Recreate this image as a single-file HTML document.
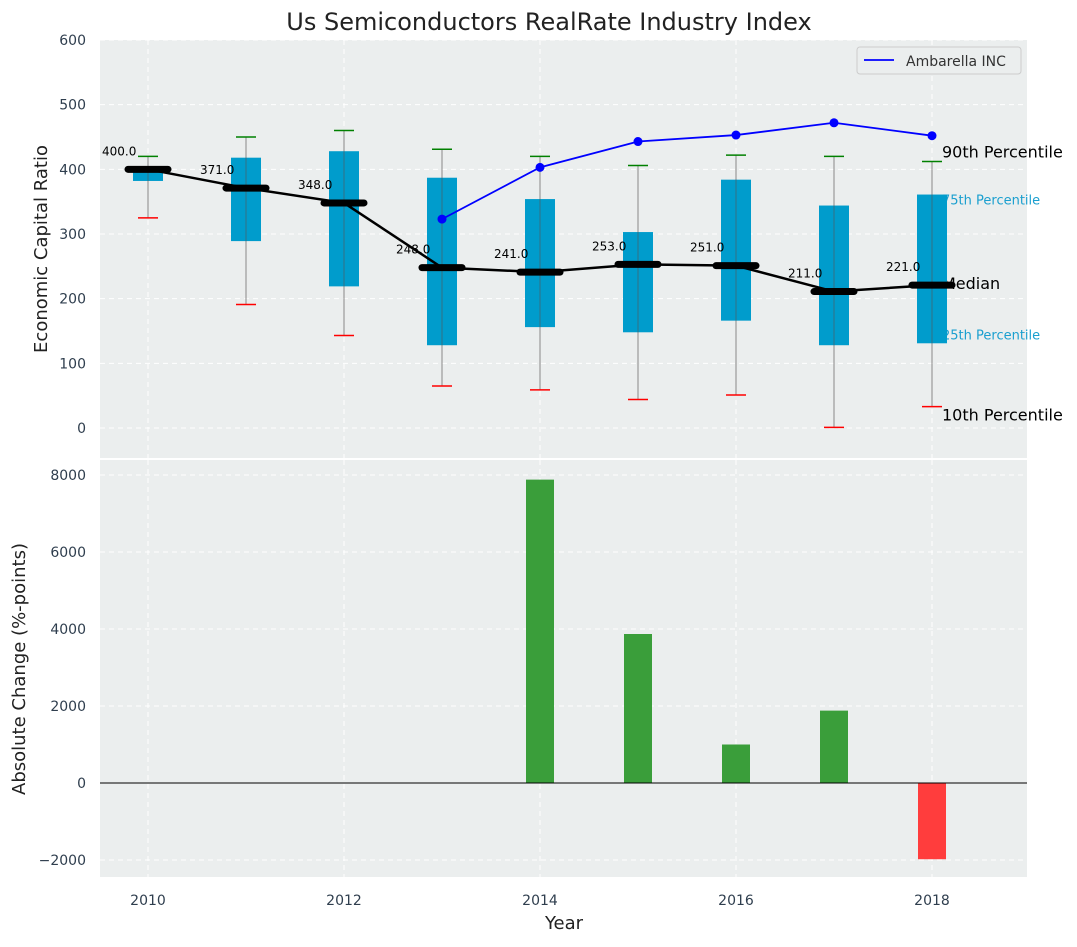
<!DOCTYPE html>
<html><head><meta charset="utf-8"><style>
body{margin:0;background:#fff;font-family:"Liberation Sans","DejaVu Sans",sans-serif}
svg text{font-family:"DejaVu Sans","Liberation Sans",sans-serif}
</style></head><body>
<svg id="c" width="1077" height="942" xmlns="http://www.w3.org/2000/svg"></svg>
<script>
const years=[2010,2011,2012,2013,2014,2015,2016,2017,2018];
const p10=[325,191,143,65,59,44,51,1,33];
const p25=[382,289,219,128,156,148,166,128,131];
const median=[400,371,348,248,241,253,251,211,221];
const p75=[404,418,428,387,354,303,384,344,361];
const p90=[420,450,460,431,420,406,422,420,412];
const ambYears=[2013,2014,2015,2016,2017,2018];
const ambVals=[323,403,443,453,472,452];
const barYears=[2014,2015,2016,2017,2018];
const barVals=[7880,3870,1000,1880,-1980];
const topTicks=[0,100,200,300,400,500,600];
const botTicks=[-2000,0,2000,4000,6000,8000];
const xTicks=[2010,2012,2014,2016,2018];

const svg=document.getElementById('c');
const NS='http://www.w3.org/2000/svg';
function el(t,a,p){const e=document.createElementNS(NS,t);for(const k in a)e.setAttribute(k,a[k]);(p||svg).appendChild(e);return e;}
const X=y=>148+(y-2010)*98;
const YT=v=>428-v*0.6467;
const YB=v=>783-v*0.0385;

let e;
e=el('text',{x:549,y:30,'font-size':24,'text-anchor':'middle',fill:'#222'});e.textContent='Us Semiconductors RealRate Industry Index';



e=el('rect',{x:100,y:40,width:927,height:418,fill:'#ebeeee'});


e=el('rect',{x:100,y:460,width:927,height:417,fill:'#ebeeee'});



topTicks.forEach(t=>{
 el('line',{x1:100,x2:1027,y1:YT(t),y2:YT(t),stroke:'#fff','stroke-dasharray':'5,4'});
 e=el('text',{x:86,y:YT(t)+5,'font-size':14,'text-anchor':'end',fill:'#2f3e4e'});e.textContent=t;
 
 
});
botTicks.forEach(t=>{
 el('line',{x1:100,x2:1027,y1:YB(t),y2:YB(t),stroke:'#fff','stroke-dasharray':'5,4'});
 e=el('text',{x:86,y:YB(t)+5,'font-size':14,'text-anchor':'end',fill:'#2f3e4e'});e.textContent=(t<0?'\u2212'+(-t):t);
 
 
});
xTicks.forEach(t=>{
 el('line',{x1:X(t),x2:X(t),y1:40,y2:458,stroke:'#fff','stroke-dasharray':'5,4'});
 el('line',{x1:X(t),x2:X(t),y1:460,y2:877,stroke:'#fff','stroke-dasharray':'5,4'});
 e=el('text',{x:X(t),y:905,'font-size':14,'text-anchor':'middle',fill:'#2f3e4e'});e.textContent=t;
 
 
});

const L=years.length-1, lx=X(years[L])+10;
[['90th Percentile',p90[L],'#000',16,-10],['75th Percentile',p75[L],'#1a9fcf',13,4],['Median',median[L],'#000',16,-2],['25th Percentile',p25[L],'#1a9fcf',13,-10],['10th Percentile',p10[L],'#000',16,8]].forEach(a=>{
 e=el('text',{x:lx,y:YT(a[1])+a[4]+6,'font-size':a[3],fill:a[2]});e.textContent=a[0];
 
 
});

years.forEach((y,i)=>{
 const x=X(y);
 e=el('line',{x1:x,x2:x,y1:YT(p90[i]),y2:YT(p10[i]),stroke:'#888','stroke-width':1});
 
 
 e=el('rect',{x:x-15,y:YT(p75[i]),width:30,height:YT(p25[i])-YT(p75[i]),fill:'#009ccc'});
 
 
 el('line',{x1:x,x2:x,y1:YT(p75[i]),y2:YT(p25[i]),stroke:'#555','stroke-width':1,opacity:0.6});
 e=el('line',{x1:x-10,x2:x+10,y1:YT(p90[i]),y2:YT(p90[i]),stroke:'green','stroke-width':1.5});
 
 
 e=el('line',{x1:x-10,x2:x+10,y1:YT(p10[i]),y2:YT(p10[i]),stroke:'red','stroke-width':1.5});
 
 
});
e=el('polyline',{points:years.map((y,i)=>X(y)+','+YT(median[i])).join(' '),fill:'none',stroke:'#000','stroke-width':2.5});


years.forEach((y,i)=>{
 const x=X(y);
 e=el('line',{x1:x-20,x2:x+20,y1:YT(median[i]),y2:YT(median[i]),stroke:'#000','stroke-width':7,'stroke-linecap':'round'});
 
 
 e=el('text',{x:x-46,y:YT(median[i])-14,'font-size':12,fill:'#000'});e.textContent=median[i].toFixed(1);
 
 
});
e=el('polyline',{points:ambYears.map((y,i)=>X(y)+','+YT(ambVals[i])).join(' '),fill:'none',stroke:'#0000ff','stroke-width':1.8});


ambYears.forEach((y,i)=>{
 e=el('circle',{cx:X(y),cy:YT(ambVals[i]),r:4.5,fill:'#0000ff'});
 
 
});
e=el('rect',{x:857,y:47,width:164,height:27,fill:'#ebeeee',stroke:'#ccc',rx:3});


el('line',{x1:864,x2:894,y1:60,y2:60,stroke:'#0000ff','stroke-width':1.8});
e=el('text',{x:906,y:66,'font-size':14,fill:'#333'});e.textContent='Ambarella INC';



barYears.forEach((y,i)=>{
 const v=barVals[i],y0=YB(Math.max(v,0)),h=Math.abs(YB(v)-YB(0));
 e=el('rect',{x:X(y)-14,y:y0,width:28,height:h,fill:v>=0?'#3a9e3a':'#ff3d3d'});
 
 
});
el('line',{x1:100,x2:1027,y1:YB(0),y2:YB(0),stroke:'#000','stroke-width':1});

e=el('text',{x:0,y:0,'font-size':18,'text-anchor':'middle',fill:'#222',transform:'translate(47,249) rotate(-90)'});e.textContent='Economic Capital Ratio';


e=el('text',{x:0,y:0,'font-size':18,'text-anchor':'middle',fill:'#222',transform:'translate(25,669) rotate(-90)'});e.textContent='Absolute Change (%-points)';


e=el('text',{x:564,y:929,'font-size':18,'text-anchor':'middle',fill:'#222'});e.textContent='Year';


</script>
</body></html>
